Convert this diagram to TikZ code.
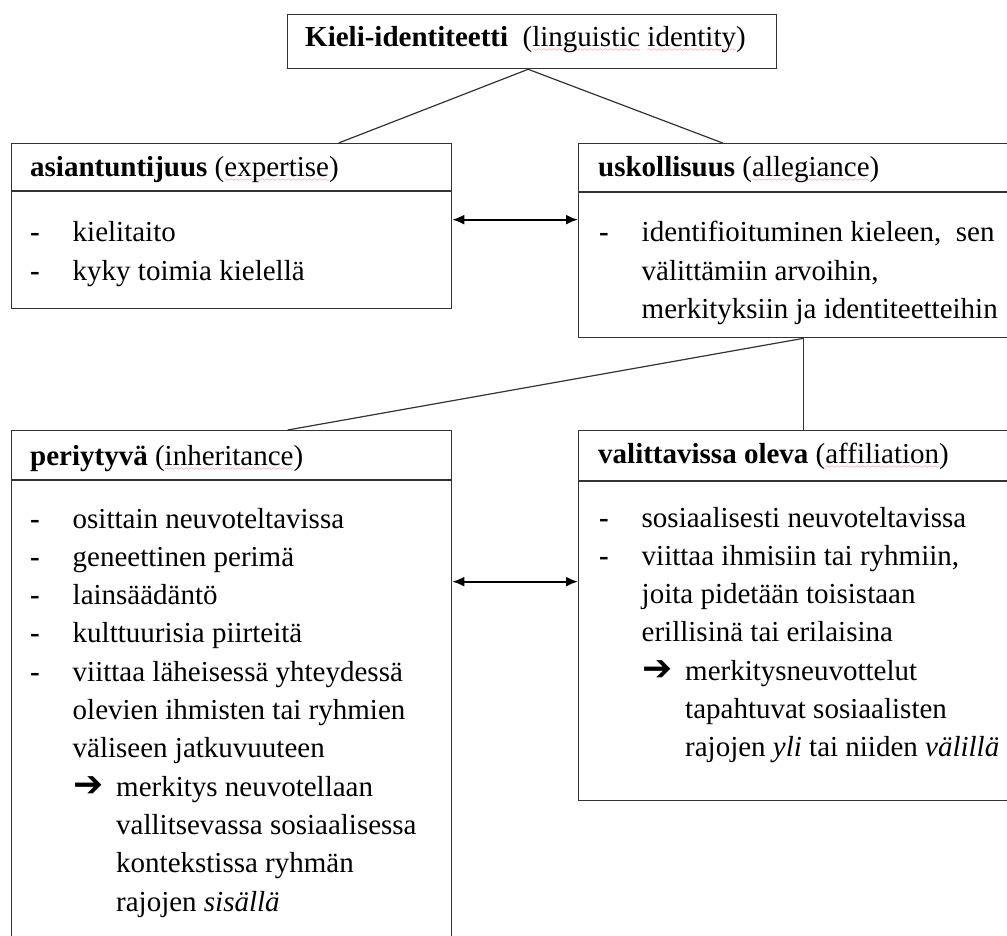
\documentclass[tikz,border=0pt]{standalone}
\usepackage{fontspec}
\usetikzlibrary{arrows.meta}
\setmainfont{Liberation Serif}
\newfontfamily\symfont{DejaVu Sans}

\font\wavefont=lasy6
\newcommand{\spell}[1]{\setbox0\hbox{#1}\rlap{\color{red!80}\lower5pt\hbox to\wd0{\xleaders\hbox{\wavefont\char58}\hfil}}\box0\relax}
\newcommand{\dashitem}{\makebox[42.5pt][l]{\textbf{-}}}
\newcommand{\contline}{\hspace*{42.5pt}}
\newcommand{\arrowitem}{\hspace*{43pt}\makebox[43pt][l]{{\symfont\bfseries\fontsize{36}{38.3}\selectfont ➔}}}
\newcommand{\arrowcont}{\hspace*{86pt}}

\tikzset{
  box/.style={draw=black!80, line width=1.3pt, rectangle, anchor=north west, inner sep=0pt},
  head/.style={anchor=base west, inner sep=0pt},
  body/.style={anchor=base west, inner sep=0pt,
    execute at begin node={\begin{minipage}[t]{430pt}\raggedright},
    execute at end node={\end{minipage}}},
  link/.style={draw=black!80, line width=1.2pt},
  dbl/.style={line width=2pt, {Latex[length=12pt,width=10pt]}-{Latex[length=12pt,width=10pt]}}
}

\begin{document}
\begin{tikzpicture}[x=1pt,y=-1pt, every node/.style={font=\fontsize{29}{38.3}\selectfont}]
\useasboundingbox (0,0) rectangle (1007,936);
\clip (0,0) rectangle (1007,936);

% boxes
\node[box, minimum width=489pt, minimum height=54pt] (top) at (287,14) {};
\node[box, minimum width=440pt, minimum height=165pt] (exp) at (11,143) {};
\node[box, minimum width=450pt, minimum height=194pt] (alle) at (578,143) {};
\node[box, minimum width=440pt, minimum height=540pt] (inh) at (11,430) {};
\node[box, minimum width=450pt, minimum height=370pt] (aff) at (578,430) {};

% header rules
\draw[link] ([yshift=-48pt]exp.north west) -- ([yshift=-48pt]exp.north east);
\draw[link] ([yshift=-49pt]alle.north west) -- ([yshift=-49pt]alle.north east);
\draw[link] ([yshift=-50pt]inh.north west) -- ([yshift=-50pt]inh.north east);
\draw[link] ([yshift=-51pt]aff.north west) -- ([yshift=-51pt]aff.north east);

% headers
\node[head] (toptxt) at (305,47) {\textbf{Kieli-identiteetti}\ \ (\spell{linguistic} \spell{identity})};
\node[head] (exphd) at (30,177) {\textbf{asiantuntijuus} (\spell{expertise})};
\node[head] (allehd) at (598,177) {\textbf{uskollisuus} (\spell{allegiance})};
\node[head] (inhhd) at (30,465) {\textbf{periytyvä} (\spell{inheritance})};
\node[head] (affhd) at (598,463) {\textbf{valittavissa oleva} (\spell{affiliation})};

% bodies
\node[body] (expbd) at (30,242) {\dashitem kielitaito\\
\dashitem kyky toimia kielellä};
\node[body] (allebd) at (599,242) {\dashitem identifioituminen kieleen, \ sen\\
\contline välittämiin arvoihin,\\
\contline merkityksiin ja identiteetteihin};
\node[body] (inhbd) at (30,528) {\dashitem osittain neuvoteltavissa\\
\dashitem geneettinen perimä\\
\dashitem lainsäädäntö\\
\dashitem kulttuurisia piirteitä\\
\dashitem viittaa läheisessä yhteydessä\\
\contline olevien ihmisten tai ryhmien\\
\contline väliseen jatkuvuuteen\\
\arrowitem merkitys neuvotellaan\\
\arrowcont vallitsevassa sosiaalisessa\\
\arrowcont kontekstissa ryhmän\\
\arrowcont rajojen \emph{sisällä}};
\node[body] (affbd) at (599,527) {\dashitem sosiaalisesti neuvoteltavissa\\
\dashitem viittaa ihmisiin tai ryhmiin,\\
\contline joita pidetään toisistaan\\
\contline erillisinä tai erilaisina\\
\arrowitem merkitysneuvottelut\\
\arrowcont tapahtuvat sosiaalisten\\
\arrowcont rajojen \emph{yli} tai niiden \emph{välillä}};

% connectors
\draw[link] ([xshift=-4pt]top.south) -- ([xshift=107pt]exp.north);
\draw[link] ([xshift=-4pt]top.south) -- ([xshift=-81pt]alle.north);
\draw[link] (alle.south) -- ([xshift=56pt]inh.north);
\draw[link] (alle.south) -- (aff.north);
\coordinate (a1) at ([yshift=6.5pt]exp.east);
\coordinate (a2) at ([yshift=119pt]inh.east);
\draw[dbl] (a1) -- (a1 -| alle.west);
\draw[dbl] (a2) -- (a2 -| aff.west);
\end{tikzpicture}
\end{document}
